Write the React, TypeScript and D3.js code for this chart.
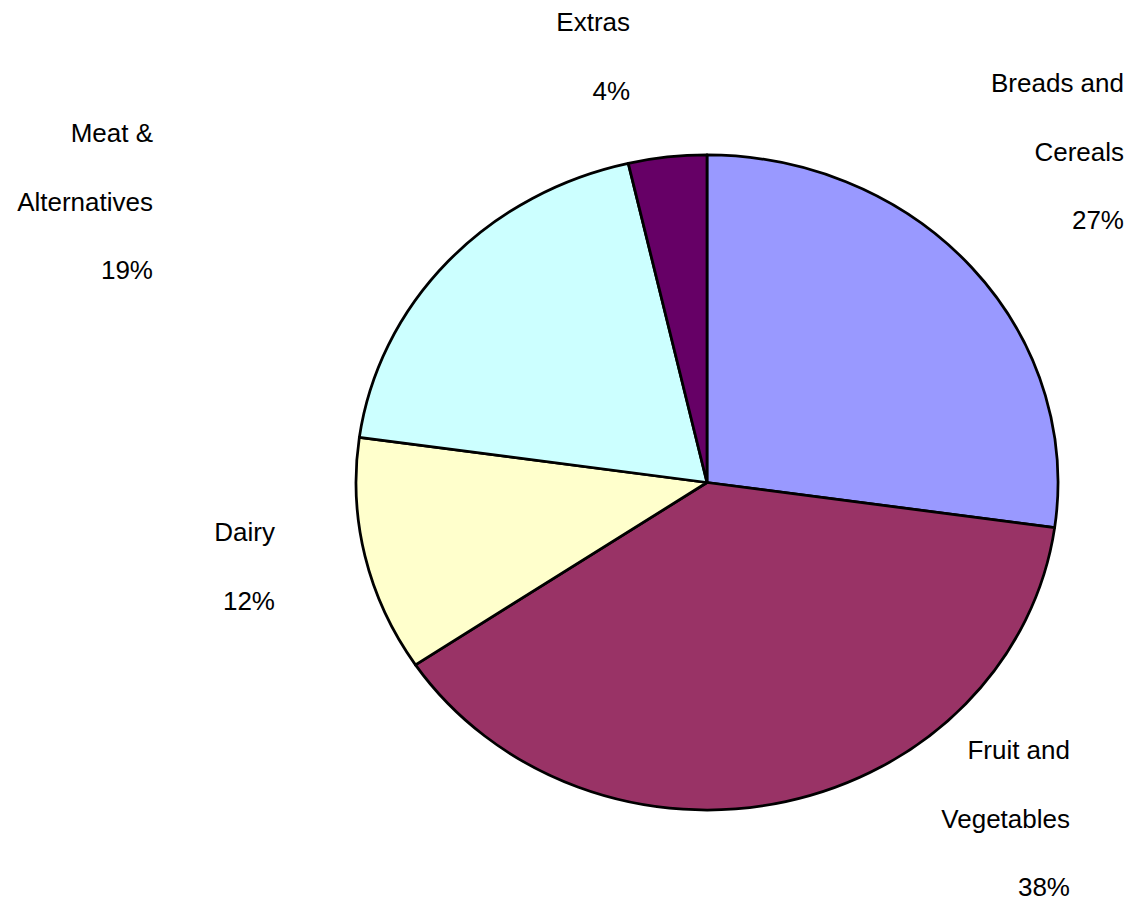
import React, { useRef, useEffect } from "react";
import * as d3 from "d3";

// slice values (percent), clockwise from 12 o'clock
const categories = ["Breads and Cereals", "Fruit and Vegetables", "Dairy", "Meat & Alternatives", "Extras"];
const values = [27.2, 38.4, 11.6, 19.2, 3.6];
const colors = ["#9999FF", "#993366", "#FFFFCC", "#CCFFFF", "#660066"];
// label lines as shown in the chart
const labelLines = [
  ["Breads and", "Cereals"],
  ["Fruit and", "Vegetables"],
  ["Dairy"],
  ["Meat &", "Alternatives"],
  ["Extras"],
];

// where each label block sits (right edge x, first baseline y)
const labelLayout: Record<string, [number, number]> = {
  "Breads and Cereals": [1124, 92],
  "Fruit and Vegetables": [1070, 759],
  "Dairy": [275, 541],
  "Meat & Alternatives": [153, 142],
  "Extras": [630, 31],
};

const App: React.FC = () => {
  const svgRef = useRef<SVGSVGElement>(null);

  useEffect(() => {
    const width = 1130;
    const height = 901;
    const cx = 707;
    const cy = 482.5;
    const rx = 351;
    const ry = 327.5;
    const lineGap = 68.5;

    const svg = d3.select(svgRef.current);
    svg.selectAll("*").remove();
    svg.attr("width", width).attr("height", height);

    const pie = d3.pie<number>().sort(null).value((d) => d);
    const arcs = pie(values);
    const arc = d3.arc<d3.PieArcDatum<number>>().innerRadius(0).outerRadius(rx);

    // pie is slightly squashed vertically
    const g = svg
      .append("g")
      .attr("transform", `translate(${cx},${cy}) scale(1,${ry / rx})`);

    g.selectAll("path")
      .data(arcs)
      .enter()
      .append("path")
      .attr("d", arc as any)
      .style("fill", (_d, i) => colors[i])
      .style("stroke", "#000")
      .style("stroke-width", 2.75)
      .style("stroke-linejoin", "round")
      .attr("vector-effect", "non-scaling-stroke");

    const pct = d3.format(".0f");

    categories.forEach((name, i) => {
      const [x, y] = labelLayout[name];
      const lines = [...labelLines[i], `${pct(values[i])}%`];
      const text = svg
        .append("text")
        .attr("text-anchor", "end")
        .style("font-family", "'Liberation Sans', Arial, sans-serif")
        .style("font-size", "26px")
        .style("fill", "#000");
      lines.forEach((line, j) => {
        text.append("tspan").attr("x", x).attr("y", y + j * lineGap).text(line);
      });
    });
  }, []);

  return (
    <svg
      ref={svgRef}
      width={1130}
      height={901}
      style={{ position: "absolute", left: 0, top: 0, background: "#fff" }}
    ></svg>
  );
};

export default App;
